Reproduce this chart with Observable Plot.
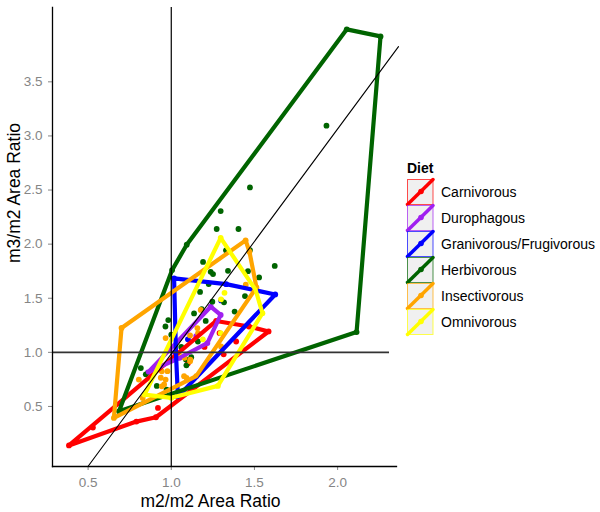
<!DOCTYPE html>
<html>
<head>
<meta charset="utf-8">
<script src="https://cdn.jsdelivr.net/npm/d3@7"></script>
<script src="https://cdn.jsdelivr.net/npm/@observablehq/plot@0.6"></script>
<style>
  html, body { margin: 0; padding: 0; background: white; }
  #wrap { position: relative; width: 600px; height: 512px; font-family: "Liberation Sans", Arial, sans-serif; }
  #chart { position: absolute; left: 0; top: 0; }
  #legend { position: absolute; left: 407px; top: 160px; }
  #legend .title { font-weight: bold; font-size: 14px; height: 19px; line-height: 16px; }
  #legend .row { display: flex; align-items: center; height: 26px; }
  #legend .lab { font-size: 14px; margin-left: 7px; color: #000; }
</style>
</head>
<body>
<div id="wrap"><div id="chart"></div><div id="legend"></div></div>
<script>
// ---- data ----
const diets = ["Carnivorous", "Durophagous", "Granivorous/Frugivorous", "Herbivorous", "Insectivorous", "Omnivorous"];
const dietColors = ["#FF0000", "#A020F0", "#0000FF", "#006400", "#FFA500", "#FFFF00"];
const xTicks = [0.5, 1.0, 1.5, 2.0];
const yTicks = [0.5, 1.0, 1.5, 2.0, 2.5, 3.0, 3.5];

// convex hull vertices (m2/m1 ratio, m3/m2 ratio)
const carnivorousHull = [[0.385,0.140],[0.790,0.360],[0.908,0.400],[1.585,1.193],[1.467,1.239],[1.270,1.290]];
const durophagousHull = [[0.860,0.815],[1.050,0.950],[1.217,1.086],[1.297,1.346],[1.237,1.422]];
const granivorousHull = [[1.017,1.683],[1.330,1.630],[1.625,1.535],[1.040,0.590],[1.028,1.000]];
const herbivorousHull = [[0.686,0.455],[2.114,1.187],[2.258,3.920],[2.055,3.985],[1.093,1.995],[1.005,1.760]];
const insectivorousHull = [[0.655,0.394],[0.701,1.225],[1.447,2.035],[1.470,1.930],[1.512,1.600],[1.150,0.780]];
const omnivorousHull = [[0.840,0.610],[1.000,0.580],[1.280,0.690],[1.548,1.362],[1.507,1.578],[1.297,2.058]];

// interior points
const carnivorousPts = [[0.529,0.305],[0.920,0.486],[1.315,0.982],[1.390,1.100],[1.290,1.178],[1.100,0.900],[1.200,1.050]];
const durophagousPts = [[1.150,1.150],[1.020,1.000]];
const granivorousPts = [[1.300,1.480],[1.100,1.120]];
const herbivorousPts = [[1.933,3.095],[1.473,2.524],[1.297,2.306],[1.273,2.140],[1.404,2.140],[1.473,1.945],[1.329,1.943],
  [1.191,1.836],[1.237,1.744],[1.251,1.723],[1.341,1.753],[1.461,1.750],[1.528,1.692],[1.622,1.799],[1.225,1.631],
  [1.173,1.558],[1.247,1.468],[1.443,1.520],[1.381,1.377],[1.137,1.360],[1.207,1.290],[0.982,1.298],[0.965,1.239],
  [1.000,1.163],[1.183,1.400],[1.120,0.955],[1.088,0.935],[1.091,0.880],[0.817,0.855],[0.847,0.797],[0.913,0.690],
  [0.972,0.655],[1.317,1.462],[1.060,1.050],[1.160,1.100]];
const insectivorousPts = [[0.966,1.132],[0.805,0.748],[0.943,0.825],[0.966,0.748],[1.092,0.763],[1.115,0.932],[0.943,0.686],
  [0.828,0.578],[1.161,1.178],[1.157,1.224],[1.113,1.156],[1.177,1.392],[1.448,1.625],[1.299,1.055],[0.977,0.826],
  [0.937,0.765],[0.957,0.703],[1.077,0.780],[1.113,0.918],[1.080,0.950]];
const omnivorousPts = [[1.299,1.490],[1.297,1.178],[1.190,1.120],[1.320,1.550],[1.050,0.970]];

// reference lines
const hLineX = [0.286, 2.312];
const refLineX = [0.499, 2.366];
const refLineY = [-0.055, 3.825];

// ---- build tables ----
const hulls = [carnivorousHull, durophagousHull, granivorousHull, herbivorousHull, insectivorousHull, omnivorousHull];
const pts = [carnivorousPts, durophagousPts, granivorousPts, herbivorousPts, insectivorousPts, omnivorousPts];
const hullRows = [];
const dotRows = [];
diets.forEach((d, i) => {
  const h = hulls[i];
  h.concat([h[0]]).forEach(([x, y]) => hullRows.push({diet: d, x, y}));
  h.concat(pts[i]).forEach(([x, y]) => dotRows.push({diet: d, x, y}));
});
const diag = refLineX.map((x, i) => ({x, y: refLineY[i]}));

const chart = Plot.plot({
  width: 405, height: 512,
  marginLeft: 52, marginRight: 9, marginTop: 7, marginBottom: 46,
  x: {domain: [0.286, 2.354]},
  y: {domain: [-0.055, 4.187]},
  color: {domain: diets, range: dietColors},
  style: {fontFamily: "'Liberation Sans', Arial, sans-serif", fontSize: "14px", background: "white", color: "black"},
  marks: [
    Plot.axisX({ticks: xTicks, tickFormat: d => d.toFixed(1), tickSize: 4, tickPadding: 7, color: "#858585", fontSize: 13.5, label: null}),
    Plot.axisY({ticks: yTicks, tickFormat: d => d.toFixed(1), tickSize: 4, tickPadding: 6, color: "#858585", fontSize: 13.5, label: null}),
    Plot.dot(dotRows, {x: "x", y: "y", fill: "diet", r: 2.9}),
    Plot.line(hullRows, {x: "x", y: "y", z: "diet", stroke: "diet", strokeWidth: 4.2, strokeLinejoin: "round", strokeLinecap: "round"}),
    Plot.ruleY([1], {x1: hLineX[0], x2: hLineX[1], stroke: "#333", strokeWidth: 1.6}),
    Plot.ruleX([1], {stroke: "black", strokeWidth: 1.2}),
    Plot.line(diag, {x: "x", y: "y", stroke: "black", strokeWidth: 1.1}),
    Plot.frame({anchor: "left", stroke: "black", strokeWidth: 1.3}),
    Plot.frame({anchor: "bottom", stroke: "black", strokeWidth: 1.3}),
    Plot.text(["m2/m2 Area Ratio"], {frameAnchor: "bottom", dx: -14, dy: 35, fontSize: 17.5, fill: "black", lineAnchor: "middle"}),
    Plot.text(["m3/m2 Area Ratio"], {frameAnchor: "left", dx: -38, dy: 26, rotate: -90, fontSize: 17.5, fill: "black", lineAnchor: "middle"})
  ]
});
document.getElementById("chart").appendChild(chart);

// ---- legend ----
const legend = document.getElementById("legend");
const t = document.createElement("div");
t.className = "title"; t.textContent = "Diet";
legend.appendChild(t);
diets.forEach((d, i) => {
  const c = dietColors[i];
  const row = document.createElement("div");
  row.className = "row";
  row.innerHTML = `<svg width="27" height="26" style="overflow:visible">
    <rect x="0.5" y="0.5" width="25.5" height="25" fill="#F0F0F0" stroke="${c}" stroke-opacity="0.7" stroke-width="1"/>
    <line x1="0.5" y1="25.5" x2="26" y2="0.5" stroke="${c}" stroke-width="3.5" stroke-linecap="round"/>
    <circle cx="14" cy="12.5" r="2.8" fill="${c}"/>
  </svg><span class="lab">${d}</span>`;
  legend.appendChild(row);
});
</script>
</body>
</html>
